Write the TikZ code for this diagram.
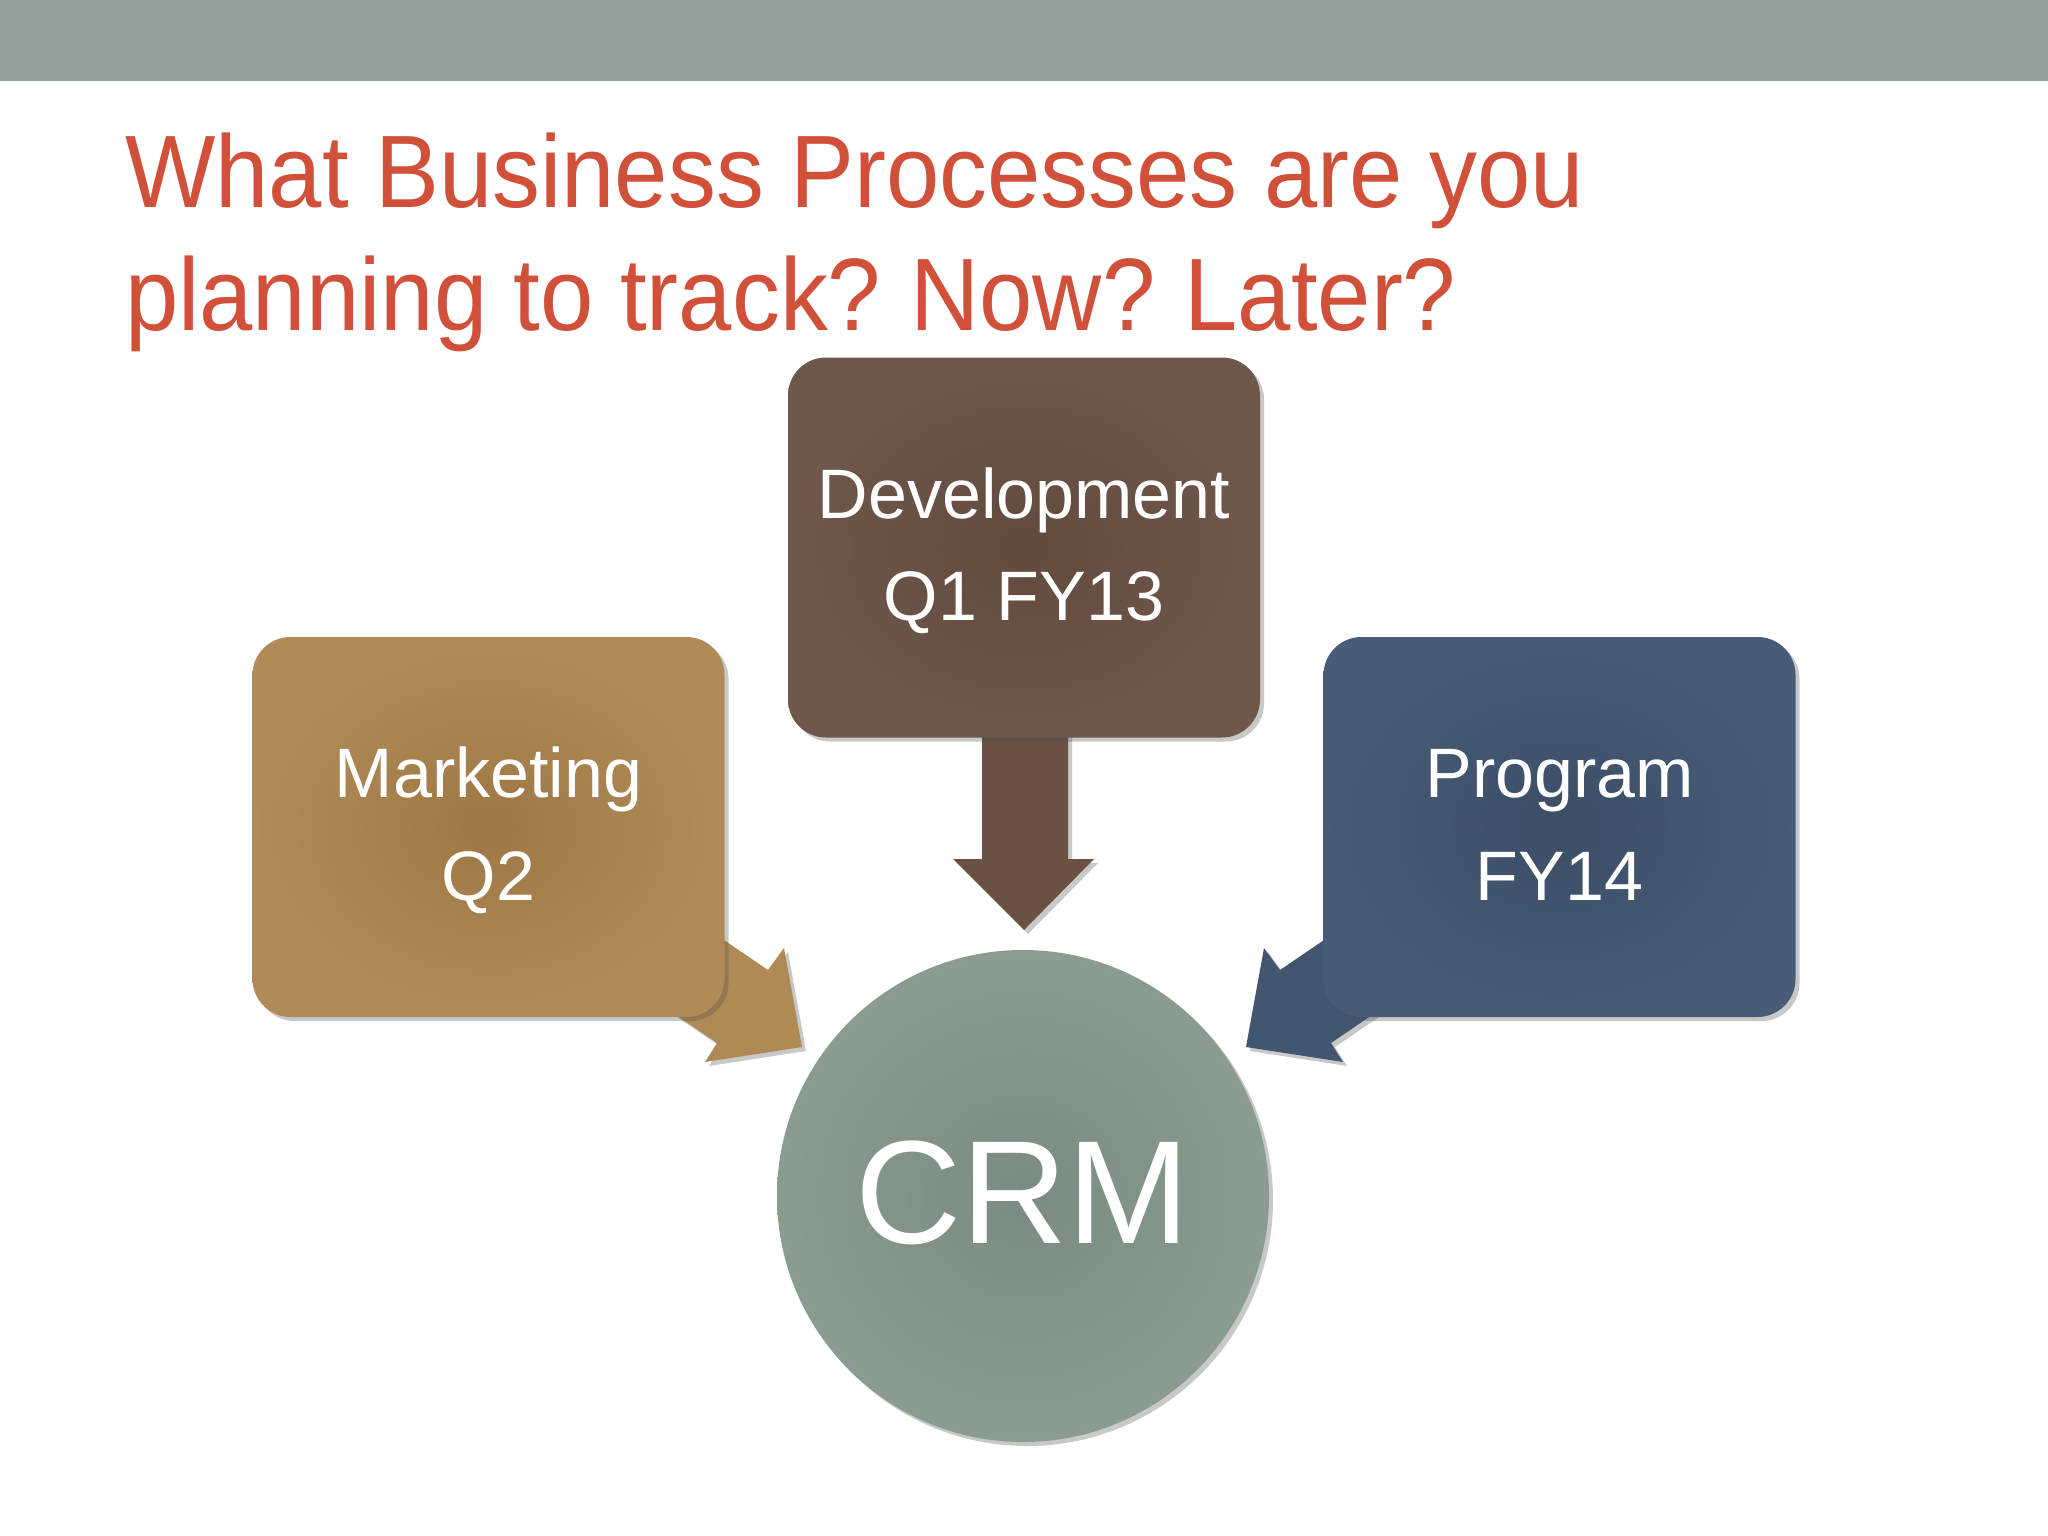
\documentclass[tikz,border=0pt]{standalone}
\usepackage{fontspec}
\setmainfont{Liberation Sans}
\newfontfamily\titlefont[FakeStretch=0.93]{Liberation Sans}
\usetikzlibrary{shadows,calc}
\definecolor{bandc}{HTML}{91A199}
\definecolor{titlec}{HTML}{D0503A}
\definecolor{devin}{HTML}{624A3E}
\definecolor{devout}{HTML}{6F584B}
\definecolor{mkin}{HTML}{9E7745}
\definecolor{mkout}{HTML}{B08B57}
\definecolor{prin}{HTML}{3C4E66}
\definecolor{prout}{HTML}{485C77}
\definecolor{crmin}{HTML}{7A8C81}
\definecolor{crmout}{HTML}{8A9C90}
\definecolor{devarr}{HTML}{6A5144}
\definecolor{mkarr}{HTML}{B08A55}
\definecolor{prarr}{HTML}{435670}
\tikzset{
  softshadow/.style={drop shadow={shadow xshift=4pt, shadow yshift=-4pt, opacity=0.3, fill=black!70}},
  procbox/.style={rectangle, rounded corners=38pt, minimum width=472pt, minimum height=380pt, inner sep=0pt, softshadow},
  boxtext/.style={anchor=base, text=white, font=\fontsize{70}{84}\selectfont, inner sep=0pt},
  titletext/.style={anchor=base west, text=titlec, font=\titlefont\fontsize{103}{123}\selectfont, inner sep=0pt},
}
\begin{document}
\begin{tikzpicture}[x=1pt,y=-1pt]
\useasboundingbox (0,0) rectangle (2048,1536);
\fill[white] (0,0) rectangle (2048,1536);
\fill[bandc] (0,0) rectangle (2048,81);
% title
\node[titletext] (t1) at (125,207) {What Business Processes are you};
\node[titletext] (t2) at (125,330) {planning to track?\hspace{-0.06em} Now?\hspace{-0.06em} Later?};
% block arrows (drawn under the boxes)
\fill[devarr, softshadow] (982,700) -- (982,859) -- (953,859) -- (1024,930) -- (1094,859) -- (1068,859) -- (1068,700) -- cycle;
\fill[mkarr, softshadow] (561,829) -- (768,970) -- (784,948) -- (802,1047) -- (705,1062) -- (717,1043) -- (510,902) -- cycle;
\fill[prarr, softshadow] (1487,829) -- (1280,970) -- (1264,948) -- (1246,1047) -- (1343,1062) -- (1331,1043) -- (1538,902) -- cycle;
% boxes
\node[procbox, inner color=devin, outer color=devout] (dev) at (1024,547.5) {};
\node[procbox, inner color=mkin, outer color=mkout] (mkt) at (488.5,827) {};
\node[procbox, inner color=prin, outer color=prout] (prg) at (1559.5,827) {};
% circle
\node[circle, minimum size=492pt, inner sep=0pt, inner color=crmin, outer color=crmout, softshadow] (crm) at (1023,1196) {};
% texts
\node[boxtext] (devl1) at (1024,518) {Development};
\node[boxtext] (devl2) at (1024,620) {Q1 FY13};
\node[boxtext] (mkl1) at (488.5,797) {Marketing};
\node[boxtext] (mkl2) at (488.5,900) {Q2};
\node[boxtext] (prl1) at (1559.5,797) {Program};
\node[boxtext] (prl2) at (1559.5,900) {FY14};
\node[anchor=base, text=white, font=\fontsize{147}{160}\selectfont, inner sep=0pt] (crml) at (1023,1243) {CRM};
\end{tikzpicture}
\end{document}
